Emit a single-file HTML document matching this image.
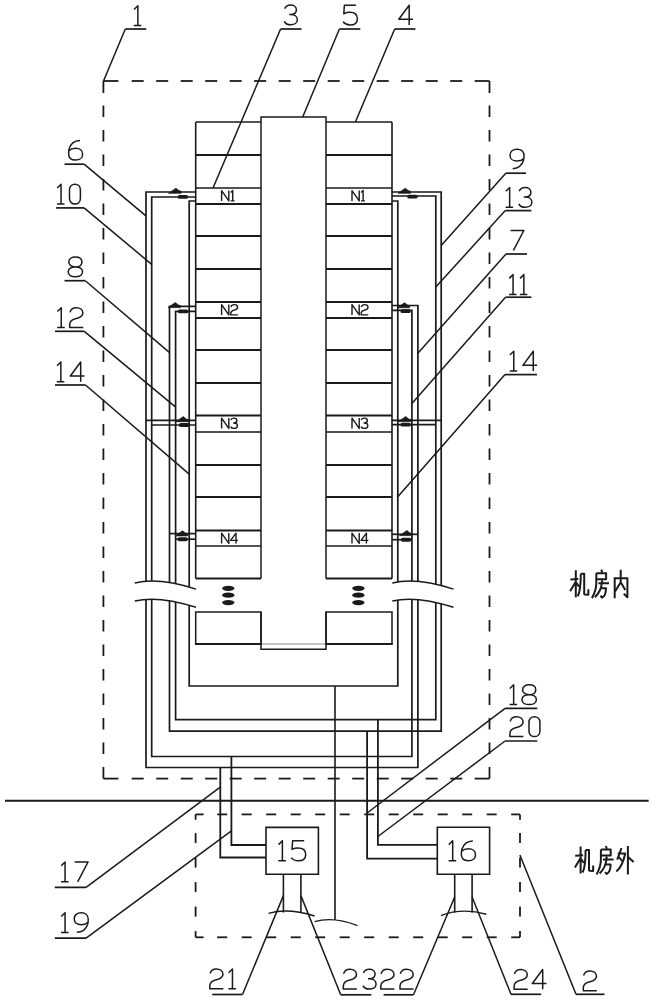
<!DOCTYPE html>
<html><head><meta charset="utf-8"><style>
html,body{margin:0;padding:0;background:#fff;width:653px;height:1000px;overflow:hidden;font-family:"Liberation Sans",sans-serif;}
svg{display:block}
</style></head><body>
<svg width="653" height="1000" viewBox="0 0 653 1000">
<rect width="653" height="1000" fill="#fff"/>
<line x1="103.40" y1="81.00" x2="118.40" y2="81.00" stroke="#1a1a1a" stroke-width="1.8"/>
<line x1="131.70" y1="81.00" x2="143.70" y2="81.00" stroke="#1a1a1a" stroke-width="1.8"/>
<line x1="156.20" y1="81.00" x2="168.20" y2="81.00" stroke="#1a1a1a" stroke-width="1.8"/>
<line x1="180.70" y1="81.00" x2="192.70" y2="81.00" stroke="#1a1a1a" stroke-width="1.8"/>
<line x1="205.20" y1="81.00" x2="217.20" y2="81.00" stroke="#1a1a1a" stroke-width="1.8"/>
<line x1="229.70" y1="81.00" x2="241.70" y2="81.00" stroke="#1a1a1a" stroke-width="1.8"/>
<line x1="254.20" y1="81.00" x2="266.20" y2="81.00" stroke="#1a1a1a" stroke-width="1.8"/>
<line x1="278.70" y1="81.00" x2="290.70" y2="81.00" stroke="#1a1a1a" stroke-width="1.8"/>
<line x1="303.20" y1="81.00" x2="315.20" y2="81.00" stroke="#1a1a1a" stroke-width="1.8"/>
<line x1="327.70" y1="81.00" x2="339.70" y2="81.00" stroke="#1a1a1a" stroke-width="1.8"/>
<line x1="352.20" y1="81.00" x2="364.20" y2="81.00" stroke="#1a1a1a" stroke-width="1.8"/>
<line x1="376.70" y1="81.00" x2="388.70" y2="81.00" stroke="#1a1a1a" stroke-width="1.8"/>
<line x1="401.20" y1="81.00" x2="413.20" y2="81.00" stroke="#1a1a1a" stroke-width="1.8"/>
<line x1="425.70" y1="81.00" x2="437.70" y2="81.00" stroke="#1a1a1a" stroke-width="1.8"/>
<line x1="450.20" y1="81.00" x2="462.20" y2="81.00" stroke="#1a1a1a" stroke-width="1.8"/>
<line x1="474.70" y1="81.00" x2="489.50" y2="81.00" stroke="#1a1a1a" stroke-width="1.8"/>
<line x1="103.40" y1="778.60" x2="118.40" y2="778.60" stroke="#1a1a1a" stroke-width="1.8"/>
<line x1="131.70" y1="778.60" x2="143.70" y2="778.60" stroke="#1a1a1a" stroke-width="1.8"/>
<line x1="156.20" y1="778.60" x2="168.20" y2="778.60" stroke="#1a1a1a" stroke-width="1.8"/>
<line x1="180.70" y1="778.60" x2="192.70" y2="778.60" stroke="#1a1a1a" stroke-width="1.8"/>
<line x1="205.20" y1="778.60" x2="217.20" y2="778.60" stroke="#1a1a1a" stroke-width="1.8"/>
<line x1="229.70" y1="778.60" x2="241.70" y2="778.60" stroke="#1a1a1a" stroke-width="1.8"/>
<line x1="254.20" y1="778.60" x2="266.20" y2="778.60" stroke="#1a1a1a" stroke-width="1.8"/>
<line x1="278.70" y1="778.60" x2="290.70" y2="778.60" stroke="#1a1a1a" stroke-width="1.8"/>
<line x1="303.20" y1="778.60" x2="315.20" y2="778.60" stroke="#1a1a1a" stroke-width="1.8"/>
<line x1="327.70" y1="778.60" x2="339.70" y2="778.60" stroke="#1a1a1a" stroke-width="1.8"/>
<line x1="352.20" y1="778.60" x2="364.20" y2="778.60" stroke="#1a1a1a" stroke-width="1.8"/>
<line x1="376.70" y1="778.60" x2="388.70" y2="778.60" stroke="#1a1a1a" stroke-width="1.8"/>
<line x1="401.20" y1="778.60" x2="413.20" y2="778.60" stroke="#1a1a1a" stroke-width="1.8"/>
<line x1="425.70" y1="778.60" x2="437.70" y2="778.60" stroke="#1a1a1a" stroke-width="1.8"/>
<line x1="450.20" y1="778.60" x2="462.20" y2="778.60" stroke="#1a1a1a" stroke-width="1.8"/>
<line x1="474.70" y1="778.60" x2="489.50" y2="778.60" stroke="#1a1a1a" stroke-width="1.8"/>
<line x1="103.40" y1="81.00" x2="103.40" y2="93.00" stroke="#1a1a1a" stroke-width="1.8"/>
<line x1="103.40" y1="105.50" x2="103.40" y2="117.00" stroke="#1a1a1a" stroke-width="1.8"/>
<line x1="103.40" y1="130.00" x2="103.40" y2="141.50" stroke="#1a1a1a" stroke-width="1.8"/>
<line x1="103.40" y1="154.50" x2="103.40" y2="166.00" stroke="#1a1a1a" stroke-width="1.8"/>
<line x1="103.40" y1="179.00" x2="103.40" y2="190.50" stroke="#1a1a1a" stroke-width="1.8"/>
<line x1="103.40" y1="203.50" x2="103.40" y2="215.00" stroke="#1a1a1a" stroke-width="1.8"/>
<line x1="103.40" y1="228.00" x2="103.40" y2="239.50" stroke="#1a1a1a" stroke-width="1.8"/>
<line x1="103.40" y1="252.50" x2="103.40" y2="264.00" stroke="#1a1a1a" stroke-width="1.8"/>
<line x1="103.40" y1="277.00" x2="103.40" y2="288.50" stroke="#1a1a1a" stroke-width="1.8"/>
<line x1="103.40" y1="301.50" x2="103.40" y2="313.00" stroke="#1a1a1a" stroke-width="1.8"/>
<line x1="103.40" y1="326.00" x2="103.40" y2="337.50" stroke="#1a1a1a" stroke-width="1.8"/>
<line x1="103.40" y1="350.50" x2="103.40" y2="362.00" stroke="#1a1a1a" stroke-width="1.8"/>
<line x1="103.40" y1="375.00" x2="103.40" y2="386.50" stroke="#1a1a1a" stroke-width="1.8"/>
<line x1="103.40" y1="399.50" x2="103.40" y2="411.00" stroke="#1a1a1a" stroke-width="1.8"/>
<line x1="103.40" y1="424.00" x2="103.40" y2="435.50" stroke="#1a1a1a" stroke-width="1.8"/>
<line x1="103.40" y1="448.50" x2="103.40" y2="460.00" stroke="#1a1a1a" stroke-width="1.8"/>
<line x1="103.40" y1="473.00" x2="103.40" y2="484.50" stroke="#1a1a1a" stroke-width="1.8"/>
<line x1="103.40" y1="497.50" x2="103.40" y2="509.00" stroke="#1a1a1a" stroke-width="1.8"/>
<line x1="103.40" y1="522.00" x2="103.40" y2="533.50" stroke="#1a1a1a" stroke-width="1.8"/>
<line x1="103.40" y1="546.50" x2="103.40" y2="558.00" stroke="#1a1a1a" stroke-width="1.8"/>
<line x1="103.40" y1="571.00" x2="103.40" y2="582.50" stroke="#1a1a1a" stroke-width="1.8"/>
<line x1="103.40" y1="595.50" x2="103.40" y2="607.00" stroke="#1a1a1a" stroke-width="1.8"/>
<line x1="103.40" y1="620.00" x2="103.40" y2="631.50" stroke="#1a1a1a" stroke-width="1.8"/>
<line x1="103.40" y1="644.50" x2="103.40" y2="656.00" stroke="#1a1a1a" stroke-width="1.8"/>
<line x1="103.40" y1="669.00" x2="103.40" y2="680.50" stroke="#1a1a1a" stroke-width="1.8"/>
<line x1="103.40" y1="693.50" x2="103.40" y2="705.00" stroke="#1a1a1a" stroke-width="1.8"/>
<line x1="103.40" y1="718.00" x2="103.40" y2="729.50" stroke="#1a1a1a" stroke-width="1.8"/>
<line x1="103.40" y1="742.50" x2="103.40" y2="754.00" stroke="#1a1a1a" stroke-width="1.8"/>
<line x1="103.40" y1="767.00" x2="103.40" y2="778.60" stroke="#1a1a1a" stroke-width="1.8"/>
<line x1="489.50" y1="81.00" x2="489.50" y2="93.00" stroke="#1a1a1a" stroke-width="1.8"/>
<line x1="489.50" y1="105.50" x2="489.50" y2="117.00" stroke="#1a1a1a" stroke-width="1.8"/>
<line x1="489.50" y1="130.00" x2="489.50" y2="141.50" stroke="#1a1a1a" stroke-width="1.8"/>
<line x1="489.50" y1="154.50" x2="489.50" y2="166.00" stroke="#1a1a1a" stroke-width="1.8"/>
<line x1="489.50" y1="179.00" x2="489.50" y2="190.50" stroke="#1a1a1a" stroke-width="1.8"/>
<line x1="489.50" y1="203.50" x2="489.50" y2="215.00" stroke="#1a1a1a" stroke-width="1.8"/>
<line x1="489.50" y1="228.00" x2="489.50" y2="239.50" stroke="#1a1a1a" stroke-width="1.8"/>
<line x1="489.50" y1="252.50" x2="489.50" y2="264.00" stroke="#1a1a1a" stroke-width="1.8"/>
<line x1="489.50" y1="277.00" x2="489.50" y2="288.50" stroke="#1a1a1a" stroke-width="1.8"/>
<line x1="489.50" y1="301.50" x2="489.50" y2="313.00" stroke="#1a1a1a" stroke-width="1.8"/>
<line x1="489.50" y1="326.00" x2="489.50" y2="337.50" stroke="#1a1a1a" stroke-width="1.8"/>
<line x1="489.50" y1="350.50" x2="489.50" y2="362.00" stroke="#1a1a1a" stroke-width="1.8"/>
<line x1="489.50" y1="375.00" x2="489.50" y2="386.50" stroke="#1a1a1a" stroke-width="1.8"/>
<line x1="489.50" y1="399.50" x2="489.50" y2="411.00" stroke="#1a1a1a" stroke-width="1.8"/>
<line x1="489.50" y1="424.00" x2="489.50" y2="435.50" stroke="#1a1a1a" stroke-width="1.8"/>
<line x1="489.50" y1="448.50" x2="489.50" y2="460.00" stroke="#1a1a1a" stroke-width="1.8"/>
<line x1="489.50" y1="473.00" x2="489.50" y2="484.50" stroke="#1a1a1a" stroke-width="1.8"/>
<line x1="489.50" y1="497.50" x2="489.50" y2="509.00" stroke="#1a1a1a" stroke-width="1.8"/>
<line x1="489.50" y1="522.00" x2="489.50" y2="533.50" stroke="#1a1a1a" stroke-width="1.8"/>
<line x1="489.50" y1="546.50" x2="489.50" y2="558.00" stroke="#1a1a1a" stroke-width="1.8"/>
<line x1="489.50" y1="571.00" x2="489.50" y2="582.50" stroke="#1a1a1a" stroke-width="1.8"/>
<line x1="489.50" y1="595.50" x2="489.50" y2="607.00" stroke="#1a1a1a" stroke-width="1.8"/>
<line x1="489.50" y1="620.00" x2="489.50" y2="631.50" stroke="#1a1a1a" stroke-width="1.8"/>
<line x1="489.50" y1="644.50" x2="489.50" y2="656.00" stroke="#1a1a1a" stroke-width="1.8"/>
<line x1="489.50" y1="669.00" x2="489.50" y2="680.50" stroke="#1a1a1a" stroke-width="1.8"/>
<line x1="489.50" y1="693.50" x2="489.50" y2="705.00" stroke="#1a1a1a" stroke-width="1.8"/>
<line x1="489.50" y1="718.00" x2="489.50" y2="729.50" stroke="#1a1a1a" stroke-width="1.8"/>
<line x1="489.50" y1="742.50" x2="489.50" y2="754.00" stroke="#1a1a1a" stroke-width="1.8"/>
<line x1="489.50" y1="767.00" x2="489.50" y2="778.60" stroke="#1a1a1a" stroke-width="1.8"/>
<line x1="195.60" y1="814.40" x2="203.60" y2="814.40" stroke="#1a1a1a" stroke-width="1.8"/>
<line x1="217.20" y1="814.40" x2="227.20" y2="814.40" stroke="#1a1a1a" stroke-width="1.8"/>
<line x1="241.70" y1="814.40" x2="251.70" y2="814.40" stroke="#1a1a1a" stroke-width="1.8"/>
<line x1="266.20" y1="814.40" x2="276.20" y2="814.40" stroke="#1a1a1a" stroke-width="1.8"/>
<line x1="290.70" y1="814.40" x2="300.70" y2="814.40" stroke="#1a1a1a" stroke-width="1.8"/>
<line x1="315.20" y1="814.40" x2="325.20" y2="814.40" stroke="#1a1a1a" stroke-width="1.8"/>
<line x1="339.70" y1="814.40" x2="349.70" y2="814.40" stroke="#1a1a1a" stroke-width="1.8"/>
<line x1="364.20" y1="814.40" x2="374.20" y2="814.40" stroke="#1a1a1a" stroke-width="1.8"/>
<line x1="388.70" y1="814.40" x2="398.70" y2="814.40" stroke="#1a1a1a" stroke-width="1.8"/>
<line x1="413.20" y1="814.40" x2="423.20" y2="814.40" stroke="#1a1a1a" stroke-width="1.8"/>
<line x1="437.70" y1="814.40" x2="447.70" y2="814.40" stroke="#1a1a1a" stroke-width="1.8"/>
<line x1="462.20" y1="814.40" x2="472.20" y2="814.40" stroke="#1a1a1a" stroke-width="1.8"/>
<line x1="486.70" y1="814.40" x2="496.70" y2="814.40" stroke="#1a1a1a" stroke-width="1.8"/>
<line x1="511.20" y1="814.40" x2="520.00" y2="814.40" stroke="#1a1a1a" stroke-width="1.8"/>
<line x1="195.60" y1="937.30" x2="203.60" y2="937.30" stroke="#1a1a1a" stroke-width="1.8"/>
<line x1="217.20" y1="937.30" x2="227.20" y2="937.30" stroke="#1a1a1a" stroke-width="1.8"/>
<line x1="241.70" y1="937.30" x2="251.70" y2="937.30" stroke="#1a1a1a" stroke-width="1.8"/>
<line x1="266.20" y1="937.30" x2="276.20" y2="937.30" stroke="#1a1a1a" stroke-width="1.8"/>
<line x1="290.70" y1="937.30" x2="300.70" y2="937.30" stroke="#1a1a1a" stroke-width="1.8"/>
<line x1="315.20" y1="937.30" x2="325.20" y2="937.30" stroke="#1a1a1a" stroke-width="1.8"/>
<line x1="339.70" y1="937.30" x2="349.70" y2="937.30" stroke="#1a1a1a" stroke-width="1.8"/>
<line x1="364.20" y1="937.30" x2="374.20" y2="937.30" stroke="#1a1a1a" stroke-width="1.8"/>
<line x1="388.70" y1="937.30" x2="398.70" y2="937.30" stroke="#1a1a1a" stroke-width="1.8"/>
<line x1="413.20" y1="937.30" x2="423.20" y2="937.30" stroke="#1a1a1a" stroke-width="1.8"/>
<line x1="437.70" y1="937.30" x2="447.70" y2="937.30" stroke="#1a1a1a" stroke-width="1.8"/>
<line x1="462.20" y1="937.30" x2="472.20" y2="937.30" stroke="#1a1a1a" stroke-width="1.8"/>
<line x1="486.70" y1="937.30" x2="496.70" y2="937.30" stroke="#1a1a1a" stroke-width="1.8"/>
<line x1="511.20" y1="937.30" x2="520.00" y2="937.30" stroke="#1a1a1a" stroke-width="1.8"/>
<line x1="195.60" y1="814.40" x2="195.60" y2="819.80" stroke="#1a1a1a" stroke-width="1.8"/>
<line x1="195.60" y1="833.10" x2="195.60" y2="843.10" stroke="#1a1a1a" stroke-width="1.8"/>
<line x1="195.60" y1="857.60" x2="195.60" y2="867.60" stroke="#1a1a1a" stroke-width="1.8"/>
<line x1="195.60" y1="882.10" x2="195.60" y2="892.10" stroke="#1a1a1a" stroke-width="1.8"/>
<line x1="195.60" y1="906.60" x2="195.60" y2="916.60" stroke="#1a1a1a" stroke-width="1.8"/>
<line x1="195.60" y1="931.10" x2="195.60" y2="937.30" stroke="#1a1a1a" stroke-width="1.8"/>
<line x1="520.00" y1="814.40" x2="520.00" y2="819.80" stroke="#1a1a1a" stroke-width="1.8"/>
<line x1="520.00" y1="833.10" x2="520.00" y2="843.10" stroke="#1a1a1a" stroke-width="1.8"/>
<line x1="520.00" y1="857.60" x2="520.00" y2="867.60" stroke="#1a1a1a" stroke-width="1.8"/>
<line x1="520.00" y1="882.10" x2="520.00" y2="892.10" stroke="#1a1a1a" stroke-width="1.8"/>
<line x1="520.00" y1="906.60" x2="520.00" y2="916.60" stroke="#1a1a1a" stroke-width="1.8"/>
<line x1="520.00" y1="931.10" x2="520.00" y2="937.30" stroke="#1a1a1a" stroke-width="1.8"/>
<line x1="5.00" y1="800.80" x2="648.70" y2="800.80" stroke="#1a1a1a" stroke-width="2.0"/>
<line x1="195.70" y1="122.00" x2="261.00" y2="122.00" stroke="#1a1a1a" stroke-width="1.5"/>
<line x1="326.00" y1="122.00" x2="392.00" y2="122.00" stroke="#1a1a1a" stroke-width="1.5"/>
<line x1="195.70" y1="122.00" x2="195.70" y2="578.50" stroke="#1a1a1a" stroke-width="1.6"/>
<line x1="392.00" y1="122.00" x2="392.00" y2="578.50" stroke="#1a1a1a" stroke-width="1.6"/>
<path d="M261.00,578.50 L261.00,117.00 L326.00,117.00 L326.00,578.50" fill="none" stroke="#1a1a1a" stroke-width="1.5" stroke-linejoin="miter"/>
<path d="M261.00,612.00 L261.00,649.20 L326.00,649.20 L326.00,612.00" fill="none" stroke="#1a1a1a" stroke-width="1.5" stroke-linejoin="miter"/>
<line x1="261.00" y1="644.00" x2="326.00" y2="644.00" stroke="#888" stroke-width="1.0"/>
<line x1="195.70" y1="155.00" x2="261.00" y2="155.00" stroke="#1a1a1a" stroke-width="2.1"/>
<line x1="326.00" y1="155.00" x2="392.00" y2="155.00" stroke="#1a1a1a" stroke-width="2.1"/>
<line x1="195.70" y1="188.00" x2="261.00" y2="188.00" stroke="#1a1a1a" stroke-width="1.5"/>
<line x1="326.00" y1="188.00" x2="392.00" y2="188.00" stroke="#1a1a1a" stroke-width="1.5"/>
<line x1="195.70" y1="204.00" x2="261.00" y2="204.00" stroke="#1a1a1a" stroke-width="2.1"/>
<line x1="326.00" y1="204.00" x2="392.00" y2="204.00" stroke="#1a1a1a" stroke-width="2.1"/>
<line x1="195.70" y1="236.00" x2="261.00" y2="236.00" stroke="#1a1a1a" stroke-width="2.1"/>
<line x1="326.00" y1="236.00" x2="392.00" y2="236.00" stroke="#1a1a1a" stroke-width="2.1"/>
<line x1="195.70" y1="269.00" x2="261.00" y2="269.00" stroke="#1a1a1a" stroke-width="2.0"/>
<line x1="326.00" y1="269.00" x2="392.00" y2="269.00" stroke="#1a1a1a" stroke-width="2.0"/>
<line x1="195.70" y1="302.00" x2="261.00" y2="302.00" stroke="#1a1a1a" stroke-width="2.1"/>
<line x1="326.00" y1="302.00" x2="392.00" y2="302.00" stroke="#1a1a1a" stroke-width="2.1"/>
<line x1="195.70" y1="318.00" x2="261.00" y2="318.00" stroke="#1a1a1a" stroke-width="2.1"/>
<line x1="326.00" y1="318.00" x2="392.00" y2="318.00" stroke="#1a1a1a" stroke-width="2.1"/>
<line x1="195.70" y1="350.00" x2="261.00" y2="350.00" stroke="#1a1a1a" stroke-width="2.1"/>
<line x1="326.00" y1="350.00" x2="392.00" y2="350.00" stroke="#1a1a1a" stroke-width="2.1"/>
<line x1="195.70" y1="383.00" x2="261.00" y2="383.00" stroke="#1a1a1a" stroke-width="1.9"/>
<line x1="326.00" y1="383.00" x2="392.00" y2="383.00" stroke="#1a1a1a" stroke-width="1.9"/>
<line x1="195.70" y1="415.50" x2="261.00" y2="415.50" stroke="#1a1a1a" stroke-width="2.1"/>
<line x1="326.00" y1="415.50" x2="392.00" y2="415.50" stroke="#1a1a1a" stroke-width="2.1"/>
<line x1="195.70" y1="432.00" x2="261.00" y2="432.00" stroke="#1a1a1a" stroke-width="1.6"/>
<line x1="326.00" y1="432.00" x2="392.00" y2="432.00" stroke="#1a1a1a" stroke-width="1.6"/>
<line x1="195.70" y1="465.00" x2="261.00" y2="465.00" stroke="#1a1a1a" stroke-width="2.1"/>
<line x1="326.00" y1="465.00" x2="392.00" y2="465.00" stroke="#1a1a1a" stroke-width="2.1"/>
<line x1="195.70" y1="497.00" x2="261.00" y2="497.00" stroke="#1a1a1a" stroke-width="1.9"/>
<line x1="326.00" y1="497.00" x2="392.00" y2="497.00" stroke="#1a1a1a" stroke-width="1.9"/>
<line x1="195.70" y1="530.50" x2="261.00" y2="530.50" stroke="#1a1a1a" stroke-width="2.1"/>
<line x1="326.00" y1="530.50" x2="392.00" y2="530.50" stroke="#1a1a1a" stroke-width="2.1"/>
<line x1="195.70" y1="546.00" x2="261.00" y2="546.00" stroke="#1a1a1a" stroke-width="1.7"/>
<line x1="326.00" y1="546.00" x2="392.00" y2="546.00" stroke="#1a1a1a" stroke-width="1.7"/>
<line x1="195.70" y1="578.50" x2="261.00" y2="578.50" stroke="#1a1a1a" stroke-width="2.1"/>
<line x1="326.00" y1="578.50" x2="392.00" y2="578.50" stroke="#1a1a1a" stroke-width="2.1"/>
<path d="M195.70,644.00 L195.70,612.00 L261.00,612.00 L261.00,644.00" fill="none" stroke="#1a1a1a" stroke-width="1.5" stroke-linejoin="miter"/>
<line x1="194.95" y1="644.00" x2="261.75" y2="644.00" stroke="#1a1a1a" stroke-width="2.1"/>
<path d="M326.00,644.00 L326.00,612.00 L392.00,612.00 L392.00,644.00" fill="none" stroke="#1a1a1a" stroke-width="1.5" stroke-linejoin="miter"/>
<line x1="325.25" y1="644.00" x2="392.75" y2="644.00" stroke="#1a1a1a" stroke-width="2.1"/>
<path transform="translate(221.60,190.60) scale(0.5150)" d="M0,20 L0,0 L14,20 L14,0" fill="none" stroke="#1a1a1a" stroke-width="2.718" stroke-linejoin="round"/>
<path transform="translate(230.61,190.60) scale(0.5150)" d="M0.2,3.8 L4.1,0 L4.1,20 M0,20 L7.6,20" fill="none" stroke="#1a1a1a" stroke-width="2.718" stroke-linejoin="round"/>
<path transform="translate(352.00,190.60) scale(0.5150)" d="M0,20 L0,0 L14,20 L14,0" fill="none" stroke="#1a1a1a" stroke-width="2.718" stroke-linejoin="round"/>
<path transform="translate(361.01,190.60) scale(0.5150)" d="M0.2,3.8 L4.1,0 L4.1,20 M0,20 L7.6,20" fill="none" stroke="#1a1a1a" stroke-width="2.718" stroke-linejoin="round"/>
<path transform="translate(221.60,304.60) scale(0.5150)" d="M0,20 L0,0 L14,20 L14,0" fill="none" stroke="#1a1a1a" stroke-width="2.718" stroke-linejoin="round"/>
<path transform="translate(230.61,304.60) scale(0.5150)" d="M0.6,4.6 C1.5,1 4.5,0 7,0 C10.5,0 13.6,2 13.6,5.3 C13.6,8.8 10.5,10 7,10.8 C2.5,11.8 0.3,13.5 0.3,17 L0.3,20 L14,20" fill="none" stroke="#1a1a1a" stroke-width="2.718" stroke-linejoin="round"/>
<path transform="translate(352.00,304.60) scale(0.5150)" d="M0,20 L0,0 L14,20 L14,0" fill="none" stroke="#1a1a1a" stroke-width="2.718" stroke-linejoin="round"/>
<path transform="translate(361.01,304.60) scale(0.5150)" d="M0.6,4.6 C1.5,1 4.5,0 7,0 C10.5,0 13.6,2 13.6,5.3 C13.6,8.8 10.5,10 7,10.8 C2.5,11.8 0.3,13.5 0.3,17 L0.3,20 L14,20" fill="none" stroke="#1a1a1a" stroke-width="2.718" stroke-linejoin="round"/>
<path transform="translate(221.60,418.10) scale(0.5150)" d="M0,20 L0,0 L14,20 L14,0" fill="none" stroke="#1a1a1a" stroke-width="2.718" stroke-linejoin="round"/>
<path transform="translate(230.61,418.10) scale(0.5150)" d="M0.4,3.6 C1.5,1.2 3.7,0 6.4,0 C9.6,0 12.2,1.8 12.2,4.8 C12.2,8 9.6,9.6 6.2,9.6 L5,9.6 M6.2,9.6 C10,9.6 13.2,11.4 13.2,14.8 C13.2,18.2 10,20 6.4,20 C3.7,20 1.1,18.8 0,16.5" fill="none" stroke="#1a1a1a" stroke-width="2.718" stroke-linejoin="round"/>
<path transform="translate(352.00,418.10) scale(0.5150)" d="M0,20 L0,0 L14,20 L14,0" fill="none" stroke="#1a1a1a" stroke-width="2.718" stroke-linejoin="round"/>
<path transform="translate(361.01,418.10) scale(0.5150)" d="M0.4,3.6 C1.5,1.2 3.7,0 6.4,0 C9.6,0 12.2,1.8 12.2,4.8 C12.2,8 9.6,9.6 6.2,9.6 L5,9.6 M6.2,9.6 C10,9.6 13.2,11.4 13.2,14.8 C13.2,18.2 10,20 6.4,20 C3.7,20 1.1,18.8 0,16.5" fill="none" stroke="#1a1a1a" stroke-width="2.718" stroke-linejoin="round"/>
<path transform="translate(221.60,533.10) scale(0.5150)" d="M0,20 L0,0 L14,20 L14,0" fill="none" stroke="#1a1a1a" stroke-width="2.718" stroke-linejoin="round"/>
<path transform="translate(230.61,533.10) scale(0.5150)" d="M10.5,20 L10.5,0 L0,14.2 L14.3,14.2" fill="none" stroke="#1a1a1a" stroke-width="2.718" stroke-linejoin="round"/>
<path transform="translate(352.00,533.10) scale(0.5150)" d="M0,20 L0,0 L14,20 L14,0" fill="none" stroke="#1a1a1a" stroke-width="2.718" stroke-linejoin="round"/>
<path transform="translate(361.01,533.10) scale(0.5150)" d="M10.5,20 L10.5,0 L0,14.2 L14.3,14.2" fill="none" stroke="#1a1a1a" stroke-width="2.718" stroke-linejoin="round"/>
<ellipse cx="228.3" cy="588.3" rx="6.1" ry="2.6" fill="#1a1a1a"/>
<ellipse cx="228.3" cy="595.2" rx="6.1" ry="2.6" fill="#1a1a1a"/>
<ellipse cx="228.3" cy="602.6" rx="6.1" ry="2.6" fill="#1a1a1a"/>
<ellipse cx="358.4" cy="588.3" rx="6.1" ry="2.6" fill="#1a1a1a"/>
<ellipse cx="358.4" cy="595.2" rx="6.1" ry="2.6" fill="#1a1a1a"/>
<ellipse cx="358.4" cy="602.6" rx="6.1" ry="2.6" fill="#1a1a1a"/>
<path d="M195.70,192.00 L146.00,192.00 L146.00,767.50 L417.90,767.50 L417.90,305.50 L392.00,305.50" fill="none" stroke="#1a1a1a" stroke-width="1.7" stroke-linejoin="miter"/>
<path d="M195.70,197.00 L151.70,197.00 L151.70,756.50 L411.90,756.50 L411.90,310.40 L392.00,310.40" fill="none" stroke="#1a1a1a" stroke-width="1.7" stroke-linejoin="miter"/>
<path d="M195.70,306.30 L169.50,306.30 L169.50,731.20 L441.20,731.20 L441.20,192.00 L392.00,192.00" fill="none" stroke="#1a1a1a" stroke-width="1.7" stroke-linejoin="miter"/>
<path d="M195.70,311.30 L175.60,311.30 L175.60,719.60 L435.80,719.60 L435.80,196.00 L392.00,196.00" fill="none" stroke="#1a1a1a" stroke-width="1.7" stroke-linejoin="miter"/>
<path d="M195.70,201.00 L189.20,201.00 L189.20,686.00 L397.80,686.00 L397.80,201.00 L392.00,201.00" fill="none" stroke="#1a1a1a" stroke-width="1.7" stroke-linejoin="miter"/>
<line x1="146.00" y1="420.30" x2="195.70" y2="420.30" stroke="#1a1a1a" stroke-width="1.7"/>
<line x1="151.70" y1="425.00" x2="195.70" y2="425.00" stroke="#1a1a1a" stroke-width="1.7"/>
<line x1="169.50" y1="533.60" x2="195.70" y2="533.60" stroke="#1a1a1a" stroke-width="1.7"/>
<line x1="175.60" y1="539.20" x2="195.70" y2="539.20" stroke="#1a1a1a" stroke-width="1.7"/>
<line x1="441.20" y1="420.30" x2="392.00" y2="420.30" stroke="#1a1a1a" stroke-width="1.7"/>
<line x1="435.80" y1="424.60" x2="392.00" y2="424.60" stroke="#1a1a1a" stroke-width="1.7"/>
<line x1="417.90" y1="534.30" x2="392.00" y2="534.30" stroke="#1a1a1a" stroke-width="1.7"/>
<line x1="411.90" y1="539.70" x2="392.00" y2="539.70" stroke="#1a1a1a" stroke-width="1.7"/>
<path d="M168.6,193.3 L171.6,191.2 L175.9,188.2 L178.9,190.6 L181.1,191.2 L181.1,193.3 Z" fill="#1a1a1a" stroke="#1a1a1a" stroke-width="0.7" stroke-linecap="butt" stroke-linejoin="round"/>
<rect x="177.8" y="194.9" width="10.2" height="3.9" rx="1.6" fill="#1a1a1a"/>
<path d="M168,307.6 L171,305.5 L175.3,302.5 L178.3,304.90000000000003 L180.5,305.5 L180.5,307.6 Z" fill="#1a1a1a" stroke="#1a1a1a" stroke-width="0.7" stroke-linecap="butt" stroke-linejoin="round"/>
<rect x="178" y="309.40000000000003" width="10.2" height="3.9" rx="1.6" fill="#1a1a1a"/>
<path d="M176,421.7 L179,419.59999999999997 L183.3,416.59999999999997 L186.3,419.0 L188.5,419.59999999999997 L188.5,421.7 Z" fill="#1a1a1a" stroke="#1a1a1a" stroke-width="0.7" stroke-linecap="butt" stroke-linejoin="round"/>
<rect x="179" y="423.1" width="10.2" height="3.9" rx="1.6" fill="#1a1a1a"/>
<path d="M175.3,535.9 L178.3,533.8000000000001 L182.60000000000002,530.8000000000001 L185.60000000000002,533.2 L187.8,533.8000000000001 L187.8,535.9 Z" fill="#1a1a1a" stroke="#1a1a1a" stroke-width="0.7" stroke-linecap="butt" stroke-linejoin="round"/>
<rect x="177.5" y="537.3000000000001" width="10.2" height="3.9" rx="1.6" fill="#1a1a1a"/>
<path d="M398,193.3 L401,191.2 L405.3,188.2 L408.3,190.6 L410.5,191.2 L410.5,193.3 Z" fill="#1a1a1a" stroke="#1a1a1a" stroke-width="0.7" stroke-linecap="butt" stroke-linejoin="round"/>
<rect x="407.3" y="194.7" width="10.2" height="3.9" rx="1.6" fill="#1a1a1a"/>
<path d="M397.2,307.8 L400.2,305.7 L404.5,302.7 L407.5,305.1 L409.7,305.7 L409.7,307.8 Z" fill="#1a1a1a" stroke="#1a1a1a" stroke-width="0.7" stroke-linecap="butt" stroke-linejoin="round"/>
<rect x="400.5" y="309.20000000000005" width="10.2" height="3.9" rx="1.6" fill="#1a1a1a"/>
<path d="M398.4,421.6 L401.4,419.5 L405.7,416.5 L408.7,418.90000000000003 L410.9,419.5 L410.9,421.6 Z" fill="#1a1a1a" stroke="#1a1a1a" stroke-width="0.7" stroke-linecap="butt" stroke-linejoin="round"/>
<rect x="400.5" y="422.70000000000005" width="10.2" height="3.9" rx="1.6" fill="#1a1a1a"/>
<path d="M399.6,535.5999999999999 L402.6,533.5 L406.90000000000003,530.5 L409.90000000000003,532.9 L412.1,533.5 L412.1,535.5999999999999 Z" fill="#1a1a1a" stroke="#1a1a1a" stroke-width="0.7" stroke-linecap="butt" stroke-linejoin="round"/>
<rect x="401" y="537.8000000000001" width="10.2" height="3.9" rx="1.6" fill="#1a1a1a"/>
<path d="M134.8,583 Q158.8,577 196,589.1 L196,607.3 Q158.8,595.3 134.8,601 Z" fill="#fff" stroke="none"/>
<path d="M134.8,583 Q158.8,577 196,589.1" fill="none" stroke="#1a1a1a" stroke-width="1.5" stroke-linecap="butt" stroke-linejoin="round"/>
<path d="M134.8,601 Q158.8,595.3 196,607.3" fill="none" stroke="#1a1a1a" stroke-width="1.5" stroke-linecap="butt" stroke-linejoin="round"/>
<path d="M392.3,583 Q416.3,577 453.5,589.1 L453.5,607.3 Q416.3,595.3 392.3,601 Z" fill="#fff" stroke="none"/>
<path d="M392.3,583 Q416.3,577 453.5,589.1" fill="none" stroke="#1a1a1a" stroke-width="1.5" stroke-linecap="butt" stroke-linejoin="round"/>
<path d="M392.3,601 Q416.3,595.3 453.5,607.3" fill="none" stroke="#1a1a1a" stroke-width="1.5" stroke-linecap="butt" stroke-linejoin="round"/>
<path d="M220.30,767.50 L220.30,857.50 L266.00,857.50" fill="none" stroke="#1a1a1a" stroke-width="1.8" stroke-linejoin="miter"/>
<path d="M231.40,756.50 L231.40,845.00 L266.00,845.00" fill="none" stroke="#1a1a1a" stroke-width="1.8" stroke-linejoin="miter"/>
<path d="M367.10,731.20 L367.10,858.60 L437.70,858.60" fill="none" stroke="#1a1a1a" stroke-width="1.8" stroke-linejoin="miter"/>
<path d="M377.90,719.60 L377.90,844.80 L437.70,844.80" fill="none" stroke="#1a1a1a" stroke-width="1.8" stroke-linejoin="miter"/>
<line x1="335.00" y1="686.00" x2="335.00" y2="920.00" stroke="#1a1a1a" stroke-width="1.6"/>
<path d="M266.00,827.40 L318.40,827.40 L318.40,874.20 L266.00,874.20Z" fill="none" stroke="#1a1a1a" stroke-width="1.6" stroke-linejoin="miter"/>
<path d="M437.30,827.30 L489.60,827.30 L489.60,874.20 L437.30,874.20Z" fill="none" stroke="#1a1a1a" stroke-width="1.6" stroke-linejoin="miter"/>
<path transform="translate(278.30,840.80) scale(1.0000)" d="M0.2,3.8 L4.1,0 L4.1,20 M0,20 L7.6,20" fill="none" stroke="#1a1a1a" stroke-width="1.500" stroke-linejoin="round"/>
<path transform="translate(291.20,840.80) scale(1.0000)" d="M13,0 L1.4,0 L0.8,8.6 C2.7,7.6 4.6,7.2 6.8,7.2 C11.4,7.2 14.5,9.4 14.5,13.6 C14.5,18 11.1,20 7,20 C4.1,20 1.6,18.8 0,16.8" fill="none" stroke="#1a1a1a" stroke-width="1.500" stroke-linejoin="round"/>
<path transform="translate(448.60,840.80) scale(1.0000)" d="M0.2,3.8 L4.1,0 L4.1,20 M0,20 L7.6,20" fill="none" stroke="#1a1a1a" stroke-width="1.500" stroke-linejoin="round"/>
<path transform="translate(461.30,840.80) scale(1.0000)" d="M11.5,0.3 C6,0.5 2,4 0.6,8.5 C0.2,10 0,11.5 0,13.3 C0,17.8 3,20 7.1,20 C11.2,20 14.2,17.8 14.2,14 C14.2,10.2 11.2,8 7.1,8 C3.5,8 1,9.8 0.3,10.5" fill="none" stroke="#1a1a1a" stroke-width="1.500" stroke-linejoin="round"/>
<line x1="283.40" y1="874.20" x2="283.40" y2="912.50" stroke="#1a1a1a" stroke-width="1.6"/>
<line x1="300.90" y1="874.20" x2="300.90" y2="912.50" stroke="#1a1a1a" stroke-width="1.6"/>
<line x1="454.70" y1="874.20" x2="454.70" y2="912.50" stroke="#1a1a1a" stroke-width="1.6"/>
<line x1="472.10" y1="874.20" x2="472.10" y2="912.50" stroke="#1a1a1a" stroke-width="1.6"/>
<path d="M268.5,913.3 Q288,907.5 314.6,916" fill="none" stroke="#1a1a1a" stroke-width="1.4" stroke-linecap="butt" stroke-linejoin="round"/>
<path d="M441,915.6 Q462,907.5 486.4,914.2" fill="none" stroke="#1a1a1a" stroke-width="1.4" stroke-linecap="butt" stroke-linejoin="round"/>
<path d="M314.6,921.7 Q333,916 357.5,925.6" fill="none" stroke="#1a1a1a" stroke-width="1.4" stroke-linecap="butt" stroke-linejoin="round"/>
<path transform="translate(133.80,5.80) scale(0.9900)" d="M0.2,3.8 L4.1,0 L4.1,20 M0,20 L7.6,20" fill="none" stroke="#1a1a1a" stroke-width="1.515" stroke-linejoin="round"/>
<line x1="125.30" y1="29.00" x2="146.30" y2="29.00" stroke="#1a1a1a" stroke-width="1.7"/>
<line x1="125.30" y1="29.00" x2="103.50" y2="81.00" stroke="#1a1a1a" stroke-width="1.5"/>
<path transform="translate(284.30,5.00) scale(0.9900)" d="M0.4,3.6 C1.5,1.2 3.7,0 6.4,0 C9.6,0 12.2,1.8 12.2,4.8 C12.2,8 9.6,9.6 6.2,9.6 L5,9.6 M6.2,9.6 C10,9.6 13.2,11.4 13.2,14.8 C13.2,18.2 10,20 6.4,20 C3.7,20 1.1,18.8 0,16.5" fill="none" stroke="#1a1a1a" stroke-width="1.515" stroke-linejoin="round"/>
<line x1="280.60" y1="29.00" x2="301.50" y2="29.00" stroke="#1a1a1a" stroke-width="1.7"/>
<line x1="280.60" y1="29.00" x2="213.00" y2="188.00" stroke="#1a1a1a" stroke-width="1.5"/>
<path transform="translate(343.00,5.20) scale(0.9900)" d="M13,0 L1.4,0 L0.8,8.6 C2.7,7.6 4.6,7.2 6.8,7.2 C11.4,7.2 14.5,9.4 14.5,13.6 C14.5,18 11.1,20 7,20 C4.1,20 1.6,18.8 0,16.8" fill="none" stroke="#1a1a1a" stroke-width="1.515" stroke-linejoin="round"/>
<line x1="339.40" y1="29.00" x2="360.30" y2="29.00" stroke="#1a1a1a" stroke-width="1.7"/>
<line x1="339.40" y1="29.00" x2="302.70" y2="117.00" stroke="#1a1a1a" stroke-width="1.5"/>
<path transform="translate(398.80,5.20) scale(0.9900)" d="M10.5,20 L10.5,0 L0,14.2 L14.3,14.2" fill="none" stroke="#1a1a1a" stroke-width="1.515" stroke-linejoin="round"/>
<line x1="394.70" y1="29.00" x2="415.50" y2="29.00" stroke="#1a1a1a" stroke-width="1.7"/>
<line x1="394.70" y1="29.00" x2="355.40" y2="122.00" stroke="#1a1a1a" stroke-width="1.5"/>
<path transform="translate(68.60,140.30) scale(0.9900)" d="M11.5,0.3 C6,0.5 2,4 0.6,8.5 C0.2,10 0,11.5 0,13.3 C0,17.8 3,20 7.1,20 C11.2,20 14.2,17.8 14.2,14 C14.2,10.2 11.2,8 7.1,8 C3.5,8 1,9.8 0.3,10.5" fill="none" stroke="#1a1a1a" stroke-width="1.515" stroke-linejoin="round"/>
<line x1="64.50" y1="164.20" x2="84.10" y2="164.20" stroke="#1a1a1a" stroke-width="1.7"/>
<line x1="84.10" y1="164.20" x2="145.90" y2="215.80" stroke="#1a1a1a" stroke-width="1.5"/>
<path transform="translate(57.00,184.20) scale(0.9900)" d="M0.2,3.8 L4.1,0 L4.1,20 M0,20 L7.6,20" fill="none" stroke="#1a1a1a" stroke-width="1.515" stroke-linejoin="round"/>
<path transform="translate(69.50,184.20) scale(0.9900)" d="M0,5.5 C0,-1.8 11,-1.8 11,5.5 L11,14.5 C11,21.8 0,21.8 0,14.5 Z" fill="none" stroke="#1a1a1a" stroke-width="1.515" stroke-linejoin="round"/>
<line x1="56.10" y1="207.90" x2="84.10" y2="207.90" stroke="#1a1a1a" stroke-width="1.7"/>
<line x1="84.10" y1="207.90" x2="151.60" y2="264.30" stroke="#1a1a1a" stroke-width="1.5"/>
<path transform="translate(68.20,257.00) scale(0.9900)" d="M7.25,10 C3.5,10 0.6,8.3 0.6,5 C0.6,1.7 3.5,0 7.25,0 C11,0 13.9,1.7 13.9,5 C13.9,8.3 11,10 7.25,10 C3.2,10 0,11.8 0,15 C0,18.2 3.2,20 7.25,20 C11.3,20 14.5,18.2 14.5,15 C14.5,11.8 11.3,10 7.25,10 Z" fill="none" stroke="#1a1a1a" stroke-width="1.515" stroke-linejoin="round"/>
<line x1="64.50" y1="280.70" x2="85.30" y2="280.70" stroke="#1a1a1a" stroke-width="1.7"/>
<line x1="85.30" y1="280.70" x2="169.30" y2="352.40" stroke="#1a1a1a" stroke-width="1.5"/>
<path transform="translate(57.20,307.80) scale(0.9900)" d="M0.2,3.8 L4.1,0 L4.1,20 M0,20 L7.6,20" fill="none" stroke="#1a1a1a" stroke-width="1.515" stroke-linejoin="round"/>
<path transform="translate(69.40,307.80) scale(0.9900)" d="M0.6,4.6 C1.5,1 4.5,0 7,0 C10.5,0 13.6,2 13.6,5.3 C13.6,8.8 10.5,10 7,10.8 C2.5,11.8 0.3,13.5 0.3,17 L0.3,20 L14,20" fill="none" stroke="#1a1a1a" stroke-width="1.515" stroke-linejoin="round"/>
<line x1="55.00" y1="331.30" x2="84.30" y2="331.30" stroke="#1a1a1a" stroke-width="1.7"/>
<line x1="84.30" y1="331.30" x2="175.40" y2="406.80" stroke="#1a1a1a" stroke-width="1.5"/>
<path transform="translate(56.80,362.00) scale(0.9900)" d="M0.2,3.8 L4.1,0 L4.1,20 M0,20 L7.6,20" fill="none" stroke="#1a1a1a" stroke-width="1.515" stroke-linejoin="round"/>
<path transform="translate(70.30,362.00) scale(0.9900)" d="M10.5,20 L10.5,0 L0,14.2 L14.3,14.2" fill="none" stroke="#1a1a1a" stroke-width="1.515" stroke-linejoin="round"/>
<line x1="55.00" y1="385.00" x2="85.50" y2="385.00" stroke="#1a1a1a" stroke-width="1.7"/>
<line x1="85.50" y1="385.00" x2="189.20" y2="474.10" stroke="#1a1a1a" stroke-width="1.5"/>
<path transform="translate(510.00,149.20) scale(0.9900)" d="M2.7,19.7 C8.2,19.5 12.2,16 13.6,11.5 C14,10 14.2,8.5 14.2,6.7 C14.2,2.2 11.2,0 7.1,0 C3,0 0,2.2 0,6 C0,9.8 3,12 7.1,12 C10.7,12 13.2,10.2 13.9,9.5" fill="none" stroke="#1a1a1a" stroke-width="1.515" stroke-linejoin="round"/>
<line x1="505.80" y1="173.20" x2="526.00" y2="173.20" stroke="#1a1a1a" stroke-width="1.7"/>
<line x1="505.80" y1="173.20" x2="441.20" y2="245.40" stroke="#1a1a1a" stroke-width="1.5"/>
<path transform="translate(505.60,187.50) scale(0.9900)" d="M0.2,3.8 L4.1,0 L4.1,20 M0,20 L7.6,20" fill="none" stroke="#1a1a1a" stroke-width="1.515" stroke-linejoin="round"/>
<path transform="translate(518.80,187.50) scale(0.9900)" d="M0.4,3.6 C1.5,1.2 3.7,0 6.4,0 C9.6,0 12.2,1.8 12.2,4.8 C12.2,8 9.6,9.6 6.2,9.6 L5,9.6 M6.2,9.6 C10,9.6 13.2,11.4 13.2,14.8 C13.2,18.2 10,20 6.4,20 C3.7,20 1.1,18.8 0,16.5" fill="none" stroke="#1a1a1a" stroke-width="1.515" stroke-linejoin="round"/>
<line x1="505.30" y1="210.60" x2="531.40" y2="210.60" stroke="#1a1a1a" stroke-width="1.7"/>
<line x1="505.30" y1="210.60" x2="435.80" y2="287.00" stroke="#1a1a1a" stroke-width="1.5"/>
<path transform="translate(510.50,230.50) scale(0.9900)" d="M0,0 L13.5,0 L3,20" fill="none" stroke="#1a1a1a" stroke-width="1.515" stroke-linejoin="round"/>
<line x1="506.00" y1="254.00" x2="527.00" y2="254.00" stroke="#1a1a1a" stroke-width="1.7"/>
<line x1="506.00" y1="254.00" x2="417.90" y2="353.30" stroke="#1a1a1a" stroke-width="1.5"/>
<path transform="translate(509.00,274.60) scale(0.9900)" d="M0.2,3.8 L4.1,0 L4.1,20 M0,20 L7.6,20" fill="none" stroke="#1a1a1a" stroke-width="1.515" stroke-linejoin="round"/>
<path transform="translate(519.80,274.60) scale(0.9900)" d="M0.2,3.8 L4.1,0 L4.1,20 M0,20 L7.6,20" fill="none" stroke="#1a1a1a" stroke-width="1.515" stroke-linejoin="round"/>
<line x1="505.50" y1="297.20" x2="531.40" y2="297.20" stroke="#1a1a1a" stroke-width="1.7"/>
<line x1="505.50" y1="297.20" x2="411.90" y2="403.50" stroke="#1a1a1a" stroke-width="1.5"/>
<path transform="translate(509.70,351.30) scale(0.9900)" d="M0.2,3.8 L4.1,0 L4.1,20 M0,20 L7.6,20" fill="none" stroke="#1a1a1a" stroke-width="1.515" stroke-linejoin="round"/>
<path transform="translate(522.90,351.30) scale(0.9900)" d="M10.5,20 L10.5,0 L0,14.2 L14.3,14.2" fill="none" stroke="#1a1a1a" stroke-width="1.515" stroke-linejoin="round"/>
<line x1="505.00" y1="374.60" x2="537.00" y2="374.60" stroke="#1a1a1a" stroke-width="1.7"/>
<line x1="505.00" y1="374.60" x2="397.80" y2="496.80" stroke="#1a1a1a" stroke-width="1.5"/>
<path transform="translate(509.60,684.80) scale(0.9900)" d="M0.2,3.8 L4.1,0 L4.1,20 M0,20 L7.6,20" fill="none" stroke="#1a1a1a" stroke-width="1.515" stroke-linejoin="round"/>
<path transform="translate(522.00,684.80) scale(0.9900)" d="M7.25,10 C3.5,10 0.6,8.3 0.6,5 C0.6,1.7 3.5,0 7.25,0 C11,0 13.9,1.7 13.9,5 C13.9,8.3 11,10 7.25,10 C3.2,10 0,11.8 0,15 C0,18.2 3.2,20 7.25,20 C11.3,20 14.5,18.2 14.5,15 C14.5,11.8 11.3,10 7.25,10 Z" fill="none" stroke="#1a1a1a" stroke-width="1.515" stroke-linejoin="round"/>
<line x1="505.10" y1="708.30" x2="537.30" y2="708.30" stroke="#1a1a1a" stroke-width="1.7"/>
<line x1="505.10" y1="708.30" x2="367.10" y2="813.00" stroke="#1a1a1a" stroke-width="1.5"/>
<path transform="translate(509.60,716.80) scale(0.9900)" d="M0.6,4.6 C1.5,1 4.5,0 7,0 C10.5,0 13.6,2 13.6,5.3 C13.6,8.8 10.5,10 7,10.8 C2.5,11.8 0.3,13.5 0.3,17 L0.3,20 L14,20" fill="none" stroke="#1a1a1a" stroke-width="1.515" stroke-linejoin="round"/>
<path transform="translate(529.00,716.80) scale(0.9900)" d="M0,5.5 C0,-1.8 11,-1.8 11,5.5 L11,14.5 C11,21.8 0,21.8 0,14.5 Z" fill="none" stroke="#1a1a1a" stroke-width="1.515" stroke-linejoin="round"/>
<line x1="505.10" y1="741.00" x2="537.30" y2="741.00" stroke="#1a1a1a" stroke-width="1.7"/>
<line x1="505.10" y1="741.00" x2="377.90" y2="836.50" stroke="#1a1a1a" stroke-width="1.5"/>
<path transform="translate(61.00,862.00) scale(0.9900)" d="M0.2,3.8 L4.1,0 L4.1,20 M0,20 L7.6,20" fill="none" stroke="#1a1a1a" stroke-width="1.515" stroke-linejoin="round"/>
<path transform="translate(74.70,862.00) scale(0.9900)" d="M0,0 L13.5,0 L3,20" fill="none" stroke="#1a1a1a" stroke-width="1.515" stroke-linejoin="round"/>
<line x1="54.80" y1="887.30" x2="86.10" y2="887.30" stroke="#1a1a1a" stroke-width="1.7"/>
<line x1="86.10" y1="887.30" x2="219.90" y2="787.30" stroke="#1a1a1a" stroke-width="1.5"/>
<path transform="translate(61.00,912.80) scale(0.9900)" d="M0.2,3.8 L4.1,0 L4.1,20 M0,20 L7.6,20" fill="none" stroke="#1a1a1a" stroke-width="1.515" stroke-linejoin="round"/>
<path transform="translate(74.20,912.80) scale(0.9900)" d="M2.7,19.7 C8.2,19.5 12.2,16 13.6,11.5 C14,10 14.2,8.5 14.2,6.7 C14.2,2.2 11.2,0 7.1,0 C3,0 0,2.2 0,6 C0,9.8 3,12 7.1,12 C10.7,12 13.2,10.2 13.9,9.5" fill="none" stroke="#1a1a1a" stroke-width="1.515" stroke-linejoin="round"/>
<line x1="54.80" y1="938.20" x2="86.10" y2="938.20" stroke="#1a1a1a" stroke-width="1.7"/>
<line x1="86.10" y1="938.20" x2="231.40" y2="830.80" stroke="#1a1a1a" stroke-width="1.5"/>
<path transform="translate(209.50,969.00) scale(0.9900)" d="M0.6,4.6 C1.5,1 4.5,0 7,0 C10.5,0 13.6,2 13.6,5.3 C13.6,8.8 10.5,10 7,10.8 C2.5,11.8 0.3,13.5 0.3,17 L0.3,20 L14,20" fill="none" stroke="#1a1a1a" stroke-width="1.515" stroke-linejoin="round"/>
<path transform="translate(228.40,969.00) scale(0.9900)" d="M0.2,3.8 L4.1,0 L4.1,20 M0,20 L7.6,20" fill="none" stroke="#1a1a1a" stroke-width="1.515" stroke-linejoin="round"/>
<line x1="212.20" y1="994.50" x2="242.50" y2="994.50" stroke="#1a1a1a" stroke-width="1.7"/>
<line x1="242.50" y1="994.50" x2="283.40" y2="895.60" stroke="#1a1a1a" stroke-width="1.5"/>
<path transform="translate(343.00,969.30) scale(0.9900)" d="M0.6,4.6 C1.5,1 4.5,0 7,0 C10.5,0 13.6,2 13.6,5.3 C13.6,8.8 10.5,10 7,10.8 C2.5,11.8 0.3,13.5 0.3,17 L0.3,20 L14,20" fill="none" stroke="#1a1a1a" stroke-width="1.515" stroke-linejoin="round"/>
<path transform="translate(363.00,969.30) scale(0.9900)" d="M0.4,3.6 C1.5,1.2 3.7,0 6.4,0 C9.6,0 12.2,1.8 12.2,4.8 C12.2,8 9.6,9.6 6.2,9.6 L5,9.6 M6.2,9.6 C10,9.6 13.2,11.4 13.2,14.8 C13.2,18.2 10,20 6.4,20 C3.7,20 1.1,18.8 0,16.5" fill="none" stroke="#1a1a1a" stroke-width="1.515" stroke-linejoin="round"/>
<line x1="340.70" y1="994.80" x2="371.30" y2="994.80" stroke="#1a1a1a" stroke-width="1.7"/>
<line x1="340.70" y1="994.80" x2="300.90" y2="895.60" stroke="#1a1a1a" stroke-width="1.5"/>
<path transform="translate(380.50,969.30) scale(0.9900)" d="M0.6,4.6 C1.5,1 4.5,0 7,0 C10.5,0 13.6,2 13.6,5.3 C13.6,8.8 10.5,10 7,10.8 C2.5,11.8 0.3,13.5 0.3,17 L0.3,20 L14,20" fill="none" stroke="#1a1a1a" stroke-width="1.515" stroke-linejoin="round"/>
<path transform="translate(399.70,969.30) scale(0.9900)" d="M0.6,4.6 C1.5,1 4.5,0 7,0 C10.5,0 13.6,2 13.6,5.3 C13.6,8.8 10.5,10 7,10.8 C2.5,11.8 0.3,13.5 0.3,17 L0.3,20 L14,20" fill="none" stroke="#1a1a1a" stroke-width="1.515" stroke-linejoin="round"/>
<line x1="383.60" y1="994.80" x2="413.50" y2="994.80" stroke="#1a1a1a" stroke-width="1.7"/>
<line x1="413.50" y1="994.80" x2="454.70" y2="897.00" stroke="#1a1a1a" stroke-width="1.5"/>
<path transform="translate(513.80,969.50) scale(0.9900)" d="M0.6,4.6 C1.5,1 4.5,0 7,0 C10.5,0 13.6,2 13.6,5.3 C13.6,8.8 10.5,10 7,10.8 C2.5,11.8 0.3,13.5 0.3,17 L0.3,20 L14,20" fill="none" stroke="#1a1a1a" stroke-width="1.515" stroke-linejoin="round"/>
<path transform="translate(532.30,969.50) scale(0.9900)" d="M10.5,20 L10.5,0 L0,14.2 L14.3,14.2" fill="none" stroke="#1a1a1a" stroke-width="1.515" stroke-linejoin="round"/>
<line x1="511.00" y1="994.30" x2="541.20" y2="994.30" stroke="#1a1a1a" stroke-width="1.7"/>
<line x1="511.00" y1="994.30" x2="472.10" y2="897.00" stroke="#1a1a1a" stroke-width="1.5"/>
<path transform="translate(583.00,971.00) scale(0.9900)" d="M0.6,4.6 C1.5,1 4.5,0 7,0 C10.5,0 13.6,2 13.6,5.3 C13.6,8.8 10.5,10 7,10.8 C2.5,11.8 0.3,13.5 0.3,17 L0.3,20 L14,20" fill="none" stroke="#1a1a1a" stroke-width="1.515" stroke-linejoin="round"/>
<line x1="576.00" y1="994.30" x2="604.50" y2="994.30" stroke="#1a1a1a" stroke-width="1.7"/>
<line x1="576.00" y1="994.30" x2="519.90" y2="855.00" stroke="#1a1a1a" stroke-width="1.5"/>
<path d="M570.4,579.4000000000001 L578.3,579.0 M575.8,570.2 L575.8,597.2 M575.8,581.7 L570.0999999999999,591.2 M576.4,582.7 L579.0,586.7 M580.8,573.7 C580.8,583.2 580.3,591.2 577.8,596.2 M580.8,573.7 L584.1999999999999,573.7 L584.1999999999999,593.7 C584.1999999999999,594.7 584.8,594.7 588.3,594.7 L588.4,589.2" fill="none" stroke="#1a1a1a" stroke-width="2.0" stroke-linecap="butt" stroke-linejoin="round"/>
<path d="M601.2,569.7 L602.2,572.2 M596.3,573.2 L606.1,573.2 L606.1,579.2 L596.3,579.2 M596.3,573.2 L596.3,583.2 C596.3,590.2 594,594.2 592,598.2 M601.5,580.4000000000001 L602.5,582.2 M598.4,583.2 L609,583.2 M601.8,583.2 C601.3,589.2 599,593.2 595,597.2 M600.5,588.2 L606,588.2 C606,593.2 605,596.2 602,597.7 L600.5,595.7" fill="none" stroke="#1a1a1a" stroke-width="2.0" stroke-linecap="butt" stroke-linejoin="round"/>
<path d="M614.7,577.2 L614.7,598.2 M614.7,578.2 L627.4,578.2 L627.4,597.2 L623.8,593.7 M620.7,569.8000000000001 L620.7,582.2 L615.2,591.2 M620.7,582.2 L625.3,590.0" fill="none" stroke="#1a1a1a" stroke-width="2.0" stroke-linecap="butt" stroke-linejoin="round"/>
<path d="M575.2,855.7 L583.1,855.3 M580.6,846.5 L580.6,873.5 M580.6,858.0 L574.9,867.5 M581.2,859.0 L583.8000000000001,863.0 M585.6,850.0 C585.6,859.5 585.1,867.5 582.6,872.5 M585.6,850.0 L589.0,850.0 L589.0,870.0 C589.0,871.0 589.6,871.0 593.1,871.0 L593.2,865.5" fill="none" stroke="#1a1a1a" stroke-width="2.0" stroke-linecap="butt" stroke-linejoin="round"/>
<path d="M605.8000000000001,846.0 L606.8000000000001,848.5 M600.9,849.5 L610.7,849.5 L610.7,855.5 L600.9,855.5 M600.9,849.5 L600.9,859.5 C600.9,866.5 598.6,870.5 596.6,874.5 M606.1,856.7 L607.1,858.5 M603.0,859.5 L613.6,859.5 M606.4,859.5 C605.9,865.5 603.6,869.5 599.6,873.5 M605.1,864.5 L610.6,864.5 C610.6,869.5 609.6,872.5 606.6,874.0 L605.1,872.0" fill="none" stroke="#1a1a1a" stroke-width="2.0" stroke-linecap="butt" stroke-linejoin="round"/>
<path d="M621.5,848 L617.2,859.6 M617.8,853.5 L625.2,853.5 C623.5,862 620.5,868 616.3,871.6 M619,857 L622,861 M627.9,846 L627.9,874.4 M628,857 L633.7,862" fill="none" stroke="#1a1a1a" stroke-width="2.0" stroke-linecap="butt" stroke-linejoin="round"/>
</svg>
</body></html>
